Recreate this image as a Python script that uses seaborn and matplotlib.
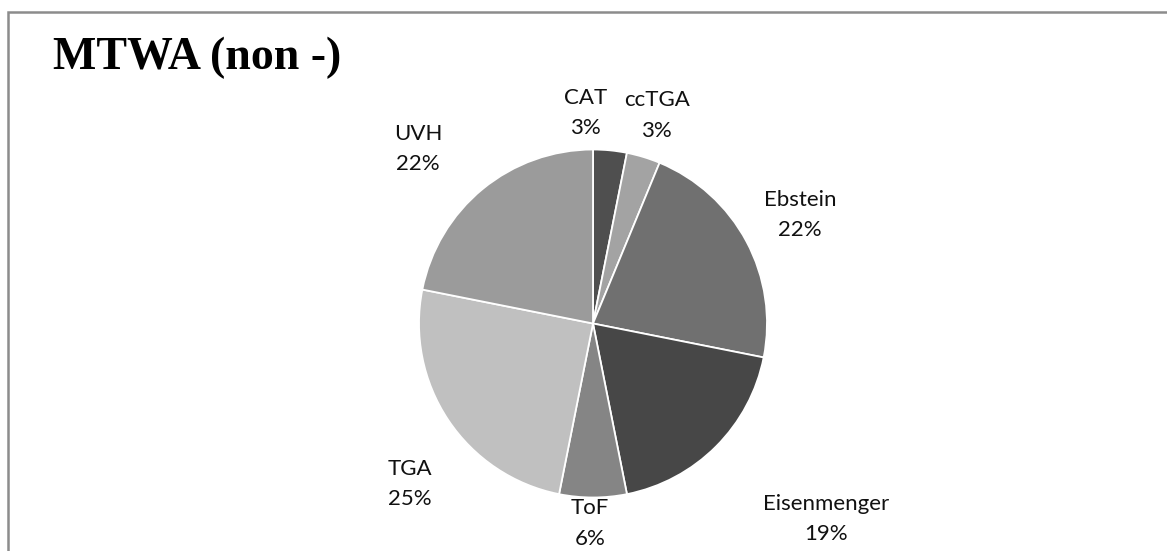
import matplotlib
matplotlib.use("Agg")
import matplotlib.pyplot as plt
import numpy as np
import seaborn as sns
from matplotlib.patches import Rectangle

# Patient counts per diagnosis (MTWA non-responders)
categories = ["CAT", "ccTGA", "Ebstein", "Eisenmenger", "ToF", "TGA", "UVH"]
counts = [1, 1, 7, 6, 2, 8, 7]
colors = ["#4f4f4f", "#a3a3a3", "#707070", "#474747", "#858585", "#c0c0c0", "#9b9b9b"]

# Label placement: radius (in pie radii) and angle (degrees) for each label block
label_radius = [1.21, 1.25, 1.345, 1.75, 1.15, 1.40, 1.42]
label_angle = [92.0, 73.0, 27.7, -40.0, -90.8, -138.7, 135.0]

sns.set_theme(style="white")
plt.rcParams["font.family"] = ["Lato", "DejaVu Sans"]

W, H = 1167, 551
fig = plt.figure(figsize=(W / 100, H / 100), dpi=100)
ax = fig.add_axes([0, 0, 1, 1])

cx, cy, r = 593.0, H - 323.5, 174.0
total = sum(counts)
wedges, _ = ax.pie(
    counts,
    colors=colors,
    startangle=90,
    counterclock=False,
    center=(cx, cy),
    radius=r,
    wedgeprops=dict(edgecolor="white", linewidth=1.3),
)

for name, cnt, lr, la in zip(categories, counts, label_radius, label_angle):
    pct = 100.0 * cnt / total
    tx = cx + lr * r * np.cos(np.radians(la))
    ty = cy + lr * r * np.sin(np.radians(la))
    ax.text(tx, ty, f"{name}\n{pct:.0f}%", ha="center", va="center",
            fontsize=16, color="#111111", linespacing=1.65)

ax.text(53, H - 58, "MTWA (non -)", ha="left", va="center",
        fontsize=33, fontweight="bold", family=["Liberation Serif"], color="black")

# Chart frame (extends beyond the right and bottom edges)
ax.add_patch(Rectangle((8, -20), W + 40, H - 12 + 20, fill=False,
                       edgecolor="#8c8c8c", linewidth=1.8))

ax.set_xlim(0, W)
ax.set_ylim(0, H)
ax.set_aspect("equal")
ax.axis("off")

fig.savefig("out.png", dpi=100, facecolor="white")
